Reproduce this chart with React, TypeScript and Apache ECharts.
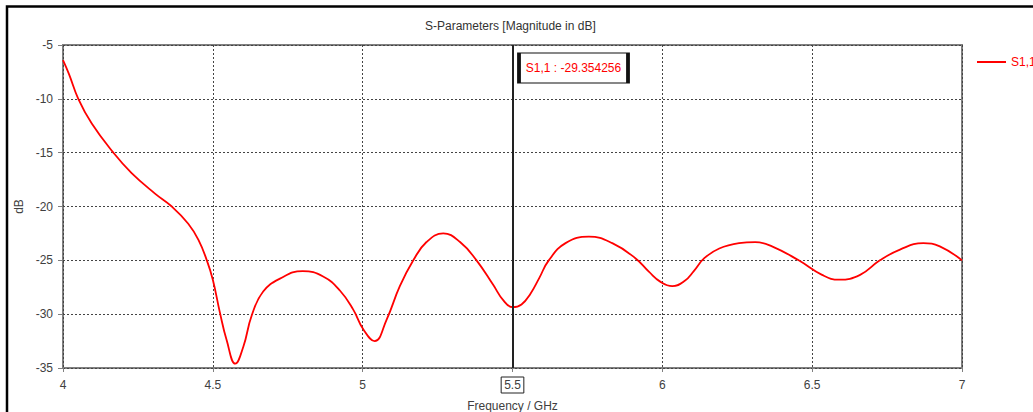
import React, { useEffect, useRef } from "react";
import * as echarts from "echarts";

const chartTitle = "S-Parameters [Magnitude in dB]";
const seriesName = "S1,1";
const xName = "Frequency / GHz";
const yName = "dB";

const freq = [
  4.0, 4.02, 4.051, 4.096, 4.168, 4.229, 4.307, 4.363, 4.418, 4.452, 4.48, 4.5,
  4.524, 4.546, 4.575, 4.602, 4.63, 4.668, 4.724, 4.8, 4.868, 4.924, 4.969, 5.002,
  5.04, 5.08, 5.124, 5.169, 5.213, 5.269, 5.325, 5.38, 5.436, 5.469, 5.5, 5.53,
  5.56, 5.59, 5.621, 5.677, 5.755, 5.833, 5.91, 5.955, 5.994, 6.033, 6.075, 6.105, 6.14,
  6.19, 6.256, 6.31, 6.366, 6.455, 6.533, 6.59, 6.66, 6.726, 6.793, 6.871, 6.926, 7.0,
];
const s11 = [
  -6.4, -7.7, -10.0, -12.3, -15.0, -16.9, -18.8, -20.0, -21.6, -23.1, -25.0, -26.8,
  -29.9, -32.4, -34.6, -33.0, -30.1, -27.9, -26.7, -26.0, -26.5, -27.8, -29.6, -31.4,
  -32.5, -30.5, -27.4, -25.0, -23.3, -22.5, -23.3, -25.0, -27.3, -28.7, -29.35, -29.1,
  -28.1, -26.6, -25.0, -23.4, -22.8, -23.4, -24.8, -26.05, -27.0, -27.4, -26.9, -26.0, -24.8,
  -23.9, -23.4, -23.3, -23.7, -25.0, -26.35, -26.8, -26.35, -25.0, -24.0, -23.4, -23.7, -25.0,
];

const markerFreq = 5.5;
const markerValue = -29.354256;
const xMin = 4;
const xMax = 7;
const xStep = 0.5;
const yMin = -35;
const yMax = -5;
const yStep = 5;

const FONT = "Liberation Sans";

export default function App() {
  const ref = useRef<HTMLDivElement>(null);
  useEffect(() => {
    if (!ref.current) return;
    const chart = echarts.init(ref.current, undefined, { renderer: "svg" });
    const labelBase = { padding: [2, 3], fontFamily: FONT, fontSize: 12, color: "#404040" };
    chart.setOption({
      animation: false,
      backgroundColor: "#ffffff",
      title: {
        text: chartTitle,
        left: 425,
        top: 20,
        padding: 0,
        textStyle: { fontFamily: FONT, fontSize: 12, fontWeight: "normal", color: "#333333" },
      },
      legend: {
        left: 977,
        top: 56,
        padding: 0,
        icon: "rect",
        itemWidth: 29,
        itemHeight: 2,
        data: [seriesName],
        textStyle: { fontFamily: FONT, fontSize: 12, color: "#ff0000" },
      },
      grid: {
        left: 63,
        right: 71,
        top: 45,
        bottom: 44,
        outerBoundsMode: "none",
        show: true,
        borderColor: "#7f7f7f",
        borderWidth: 2,
      },
      xAxis: {
        type: "value",
        min: xMin,
        max: xMax,
        interval: xStep,
        name: xName,
        nameLocation: "middle",
        nameGap: 32,
        nameTextStyle: { fontFamily: FONT, fontSize: 12, color: "#404040" },
        axisLine: { show: false },
        axisTick: { show: true, length: 4, lineStyle: { color: "#7f7f7f", width: 1 } },
        axisLabel: {
          margin: 9,
          formatter: (v: number) => (Math.abs(v - markerFreq) < 1e-9 ? `{box|${v}}` : `{n|${v}}`),
          rich: {
            n: { ...labelBase },
            box: { ...labelBase, borderColor: "#222222", borderWidth: 1 },
          },
        },
        splitLine: { show: true, lineStyle: { color: "#444444", type: [2, 2], width: 1 } },
      },
      yAxis: {
        type: "value",
        min: yMin,
        max: yMax,
        interval: yStep,
        name: yName,
        nameLocation: "middle",
        nameGap: 38,
        nameTextStyle: { fontFamily: FONT, fontSize: 12, color: "#404040" },
        axisLine: { show: false },
        axisTick: { show: true, length: 5, lineStyle: { color: "#7f7f7f", width: 1 } },
        axisLabel: { margin: 10, fontFamily: FONT, fontSize: 12, color: "#404040" },
        splitLine: { show: true, lineStyle: { color: "#444444", type: [2, 2], width: 1 } },
      },
      series: [
        {
          name: seriesName,
          type: "line",
          data: freq.map((f, i) => [f, s11[i]]),
          smooth: 0.45,
          symbol: "none",
          lineStyle: { color: "#ff0000", width: 1.8 },
          itemStyle: { color: "#ff0000" },
          markLine: {
            silent: true,
            symbol: "none",
            label: { show: false },
            lineStyle: { color: "#222222", width: 2, type: "solid" },
            data: [{ xAxis: markerFreq }],
          },
          markPoint: {
            silent: true,
            data: [
              {
                coord: [markerFreq, yMax],
                symbol: "rect",
                symbolSize: [109, 30],
                symbolOffset: [61, 23],
                itemStyle: { color: "#ffffff", borderColor: "#111111", borderWidth: 2 },
                label: {
                  show: true,
                  position: "inside",
                  formatter: `${seriesName} : ${markerValue}`,
                  fontFamily: FONT,
                  fontSize: 12,
                  color: "#ff0000",
                },
              },
            ],
          },
        },
      ],
      graphic: [
        {
          type: "rect",
          silent: true,
          shape: { x: 7, y: 6.5, width: 1100, height: 500 },
          style: { fill: "none", stroke: "#000000", lineWidth: 2.5 },
        },
      ],
    });
    return () => chart.dispose();
  }, []);
  return (
    <div
      ref={ref}
      style={{ position: "absolute", left: 0, top: 0, width: 1033, height: 412 }}
    />
  );
}
